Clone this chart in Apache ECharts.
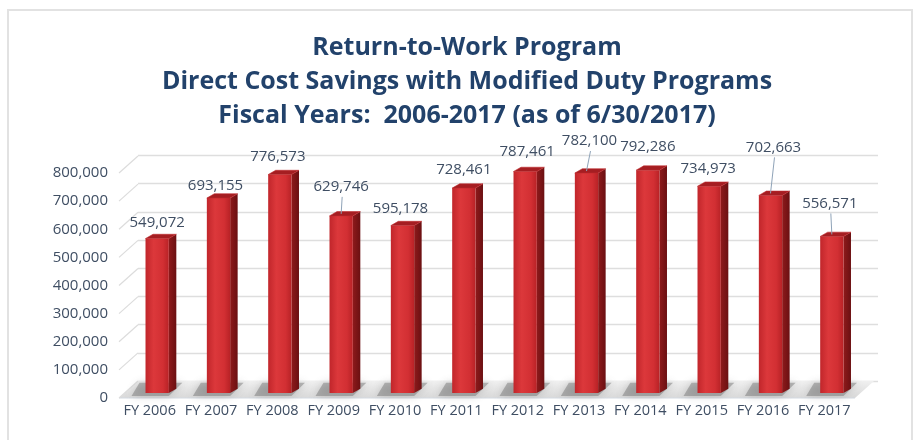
<!DOCTYPE html>
<html>
<head>
<meta charset="utf-8">
<script src="https://cdn.jsdelivr.net/npm/echarts@6/dist/echarts.min.js"></script>
<style>
  html, body { margin: 0; padding: 0; background: #ffffff; }
  #chart { width: 916px; height: 440px; }
</style>
</head>
<body>
<div id="chart"></div>
<script>
// Return-to-Work savings by fiscal year
const categories = ['FY 2006', 'FY 2007', 'FY 2008', 'FY 2009', 'FY 2010', 'FY 2011',
                    'FY 2012', 'FY 2013', 'FY 2014', 'FY 2015', 'FY 2016', 'FY 2017'];
const savings = [549072, 693155, 776573, 629746, 595178, 728461,
                 787461, 782100, 792286, 734973, 702663, 556571];
const valueTicks = [0, 100000, 200000, 300000, 400000, 500000, 600000, 700000, 800000];
const titleLines = ['Return-to-Work Program',
                    'Direct Cost Savings with Modified Duty Programs',
                    'Fiscal Years:  2006-2017 (as of 6/30/2017)'];

// label placement per column: [horizontal shift, lift above column top] (px)
const labelPlacement = [[0, 16], [-3, 12], [-2, 18], [0, 29], [-2, 17], [0, 18],
                        [2, 20], [3, 32], [0, 23], [-1, 18], [3, 48], [-2, 33]];

// 3D look: back wall offset, column offset from the floor edge, column depth
const WALL = [19, -17];
const COL = [7.5, -5];
const DEPTH = [7.5, -4.3];

const TEXT = '#3f4e63';
const FONT = 'Open Sans';
const fmt = v => Number(v).toLocaleString('en-US');

const chart = echarts.init(document.getElementById('chart'), null, { renderer: 'canvas' });

function renderColumn(params, api) {
  const i = api.value(0);
  const v = api.value(1);
  const base = api.coord([i, 0]);
  const top = api.coord([i, v]);
  const band = api.size([1, 0])[0];
  const w = band * 0.38;
  const cx = base[0] + COL[0];
  const xL = cx - w / 2, xR = cx + w / 2;
  const yB = base[1] + COL[1];
  const yT = top[1] + COL[1];
  const [dx, dy] = DEPTH;
  const place = labelPlacement[i];
  const children = [
    { // soft shadow cast on the floor
      type: 'polygon', z2: 1,
      shape: { points: [[xL - 14, yB + 3], [xR, yB + 3], [xR + dx + 6, yB + dy - 6], [xL - 6, yB + dy - 6]] },
      style: { fill: 'rgba(110,110,110,0.45)', shadowBlur: 8, shadowColor: 'rgba(90,90,90,0.6)' }
    },
    {
      type: 'polygon', z2: 2,
      shape: { points: [[xR, yT], [xR + dx, yT + dy], [xR + dx, yB + dy], [xR, yB]] },
      style: { fill: new echarts.graphic.LinearGradient(0, 0, 1, 0, [
        { offset: 0, color: '#8e1a1b' }, { offset: 1, color: '#6b1012' }]) }
    },
    {
      type: 'rect', z2: 3,
      shape: { x: xL, y: yT, width: w, height: yB - yT },
      style: { fill: new echarts.graphic.LinearGradient(0, 0, 1, 0, [
        { offset: 0, color: '#c1262b' }, { offset: 0.35, color: '#dc383b' },
        { offset: 0.75, color: '#d22f33' }, { offset: 1, color: '#b82226' }]) }
    },
    {
      type: 'polygon', z2: 4,
      shape: { points: [[xL, yT], [xR, yT], [xR + dx, yT + dy], [xL + dx, yT + dy]] },
      style: { fill: '#a51e22', stroke: '#c02a2d', lineWidth: 0.6 }
    },
    {
      type: 'text', z2: 6,
      style: {
        x: cx + place[0], y: yT - place[1], text: fmt(v),
        align: 'center', verticalAlign: 'middle',
        fill: TEXT, font: '15px "' + FONT + '"'
      }
    }
  ];
  if (place[1] > 25) {
    children.push({
      type: 'line', z2: 5,
      shape: { x1: cx + place[0] + 1, y1: yT - place[1] + 10, x2: cx, y2: yT - 2 },
      style: { stroke: '#8fa3b8', lineWidth: 1 }
    });
  }
  return { type: 'group', children };
}

function renderSideWall(params, api) {
  const p = api.coord([0, api.value(0)]);
  const x0 = params.coordSys.x;
  return {
    type: 'line',
    shape: { x1: x0, y1: p[1], x2: x0 + WALL[0], y2: p[1] + WALL[1] },
    style: { stroke: '#dcdcdc', lineWidth: 1.2 }
  };
}

function renderFloor(params, api) {
  const cs = params.coordSys;
  const y0 = api.coord([0, 0])[1];
  const xa = cs.x, xb = cs.x + cs.width;
  return {
    type: 'group',
    children: [
      {
        type: 'polygon',
        shape: { points: [[xa, y0], [xb, y0], [xb + WALL[0], y0 + WALL[1]], [xa + WALL[0], y0 + WALL[1]]] },
        style: { fill: new echarts.graphic.LinearGradient(0, 0, 0, 1, [
          { offset: 0, color: '#f0f0f0' }, { offset: 1, color: '#d9d9d9' }]) }
      },
      {
        type: 'line',
        shape: { x1: xa, y1: y0, x2: xb, y2: y0 },
        style: { stroke: '#d3d9e2', lineWidth: 1.2 }
      }
    ]
  };
}

const option = {
  backgroundColor: '#ffffff',
  animation: false,
  title: {
    text: titleLines.join('\n'),
    left: 462, top: 26, textAlign: 'center',
    textStyle: { fontFamily: FONT, fontWeight: 'bold', fontSize: 25, lineHeight: 34, color: '#22426b' }
  },
  graphic: [{
    type: 'rect', z: -10, silent: true,
    shape: { x: 8, y: 10, width: 904, height: 440 },
    style: { fill: 'none', stroke: '#e2e2e2', lineWidth: 2 }
  }],
  grid: [
    { left: 119, right: 61, top: 173, bottom: 42 },          // front edge plane
    { left: 138, right: 38, top: 155.5, bottom: 59 }          // back wall
  ],
  xAxis: [
    {
      type: 'category', gridIndex: 0, data: categories,
      axisLine: { show: false }, axisTick: { show: false },
      axisLabel: { color: TEXT, fontFamily: FONT, fontSize: 14.5, margin: 5, interval: 0 }
    },
    { type: 'category', gridIndex: 1, data: categories, show: false }
  ],
  yAxis: [
    {
      type: 'value', gridIndex: 0, min: 0, max: 800000, interval: 100000,
      axisLine: { show: false }, axisTick: { show: false }, splitLine: { show: false },
      axisLabel: { color: TEXT, fontFamily: FONT, fontSize: 15, margin: 11, formatter: fmt }
    },
    {
      type: 'value', gridIndex: 1, min: 0, max: 800000, interval: 100000,
      axisLine: { show: false }, axisTick: { show: false }, axisLabel: { show: false },
      splitLine: { show: true, lineStyle: { color: '#dedede', width: 1.3 } }
    }
  ],
  series: [
    {
      type: 'custom', name: 'floor', xAxisIndex: 0, yAxisIndex: 0, z: 1,
      data: [[0]], renderItem: renderFloor, silent: true
    },
    {
      type: 'custom', name: 'side wall', xAxisIndex: 0, yAxisIndex: 0, z: 1,
      data: valueTicks.map(t => [t]), renderItem: renderSideWall, silent: true
    },
    {
      type: 'custom', name: 'Direct Cost Savings', xAxisIndex: 0, yAxisIndex: 0, z: 3,
      data: savings.map((v, i) => [i, v]),
      encode: { x: 0, y: 1 },
      renderItem: renderColumn
    }
  ]
};

chart.setOption(option);
</script>
</body>
</html>
